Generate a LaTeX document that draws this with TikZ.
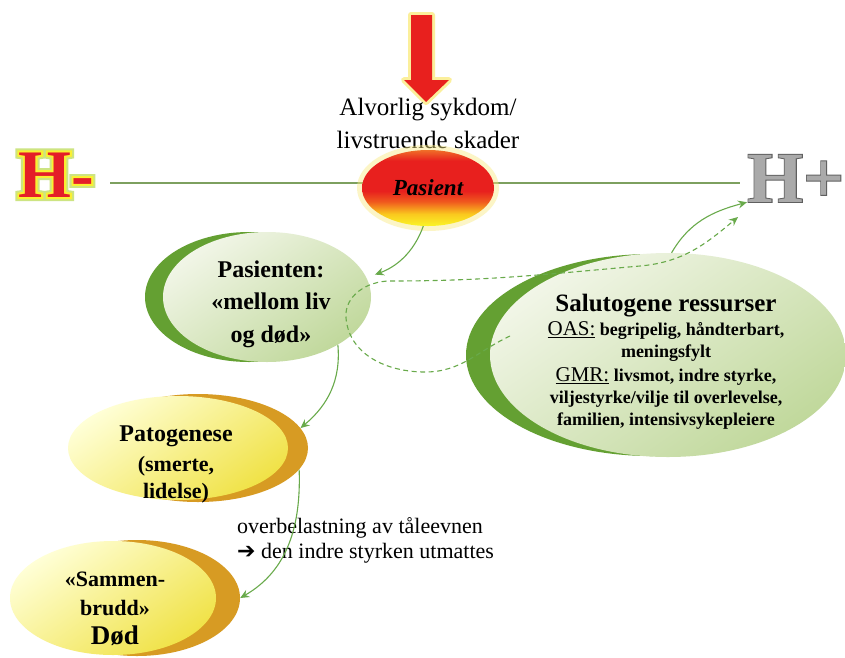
\documentclass[tikz,border=0pt]{standalone}
\usepackage{fontspec}
\setmainfont{Liberation Serif}
\newfontfamily\symfont{DejaVu Sans}
\font\hglowoutfont="Liberation Serif/B:embolden=12" at 68pt
\font\hglowinfont="Liberation Serif/B:embolden=6" at 68pt
\font\hplusoutfont="Liberation Serif/B:embolden=2.5" at 72pt
\usetikzlibrary{shapes.geometric,arrows.meta}

\definecolor{arrred}{RGB}{232,32,30}
\definecolor{arrglow}{RGB}{250,235,130}
\definecolor{pastop}{RGB}{240,110,40}
\definecolor{pasmid}{RGB}{240,90,30}
\definecolor{pasyo}{RGB}{250,200,30}
\definecolor{pasbot}{RGB}{250,245,40}
\definecolor{lineg}{RGB}{125,160,95}
\definecolor{conng}{RGB}{105,170,75}
\definecolor{darkg}{RGB}{100,160,50}
\definecolor{lightga}{RGB}{242,246,232}
\definecolor{lightgb}{RGB}{192,216,155}
\definecolor{orng}{RGB}{215,155,35}
\definecolor{ylwa}{RGB}{255,255,215}
\definecolor{ylwb}{RGB}{240,226,70}
\definecolor{hred}{RGB}{228,30,40}
\definecolor{hglow}{RGB}{250,240,50}
\definecolor{hglowout}{RGB}{205,228,130}
\definecolor{hgray}{RGB}{170,170,170}
\definecolor{hgraydark}{RGB}{95,95,95}

\pgfdeclareverticalshading{passhade}{100bp}{color(0bp)=(pasbot); color(25bp)=(pasbot);
  color(33bp)=(pasyo); color(41bp)=(pasmid); color(48bp)=(arrred); color(68bp)=(arrred);
  color(75bp)=(pastop); color(100bp)=(pastop)}

\begin{document}
\begin{tikzpicture}[x=1pt,y=1pt,
  hline/.style={draw=lineg, line width=1.3pt},
  conn/.style={draw=conng, line width=1.1pt, -{Stealth[length=9pt,width=8pt,inset=3pt]}},
  dconn/.style={conn, dash pattern=on 5pt off 3.5pt},
  greenface/.style={ellipse, inner sep=0pt, top color=lightga, bottom color=lightgb, shading angle=35},
  yellowface/.style={ellipse, inner sep=0pt, top color=ylwa, bottom color=ylwb, shading angle=35},
  backell/.style={ellipse, inner sep=0pt},
  bodytxt/.style={align=center, inner sep=0pt, text=black},
  hbig/.style={anchor=base west, inner sep=0pt, font=\fontsize{68}{68}\selectfont\bfseries},
  hbigp/.style={anchor=base west, inner sep=0pt, font=\fontsize{72}{72}\selectfont\bfseries}
]
\useasboundingbox (0,0) rectangle (845,-657);
\fill[white] (0,0) rectangle (845,-657);

% red arrow down
\draw[draw=arrglow, line width=6pt, line join=round, opacity=0.8]
  (411,-15) -- (432,-15) -- (432,-80) -- (449,-80) -- (426,-102) -- (404,-80) -- (411,-80) -- cycle;
\fill[arrred]
  (411,-15) -- (432,-15) -- (432,-80) -- (449,-80) -- (426,-102) -- (404,-80) -- (411,-80) -- cycle;

% caption above patient
\node[name=dis, align=center, inner sep=0pt, font=\fontsize{25}{33}\selectfont] at (428,-123)
  {Alvorlig sykdom/\\livstruende skader};

% horizontal axis
\coordinate (hl) at (110,-183);
\coordinate (hr) at (740,-183);
\draw[hline] (hl) -- (hr);

% H- with glow
\node[anchor=base west, inner sep=0pt, text=hglowout, font=\hglowoutfont, name=hmglowout] at (18,-197) {H-};
\node[anchor=base west, inner sep=0pt, text=hglow, font=\hglowinfont, name=hmglowin] at (18,-197) {H-};
\node[hbig, text=hred, name=hminus] at (18,-197) {H-};

% H+ engraved grey
\node[anchor=base west, inner sep=0pt, text=hgraydark, font=\hplusoutfont, name=hplusout] at (747,-202) {H+};
\node[hbigp, text=hgray, name=hplus] at (747,-202) {H+};

% Pasient
\node[name=pasglow, ellipse, minimum width=142pt, minimum height=86pt, fill=arrglow, opacity=0.45] at (428,-188) {};
\node[name=pas, ellipse, inner sep=0pt, minimum width=132pt, minimum height=76pt,
  shading=passhade, font=\fontsize{23}{25}\selectfont\bfseries\itshape] at (428,-188) {Pasient};

% Pasienten: mellom liv og død
\node[name=ptenback, backell, minimum width=208pt, minimum height=130pt, fill=darkg] at (249,-297) {};
\node[name=pten, greenface, minimum width=208pt, minimum height=130pt] at (267,-297) {};
\node[name=ptentxt, bodytxt, font=\fontsize{24}{32.5}\selectfont\bfseries] at (271,-304)
  {Pasienten:\\«mellom liv\\og død»};

% Salutogene ressurser
\node[name=saluback, backell, minimum width=370pt, minimum height=202pt, fill=darkg] at (651,-355) {};
\node[name=salu, greenface, minimum width=356pt, minimum height=204pt] at (668,-355) {};
\node[name=salutxt, bodytxt, font=\fontsize{18}{22}\selectfont\bfseries] at (666,-362)
  {{\fontsize{25}{28}\selectfont Salutogene ressurser}\\[2pt]
   {\mdseries\fontsize{21}{22}\selectfont\underline{OAS:}} begripelig, håndterbart,\\
   meningsfylt\\[2pt]
   {\mdseries\fontsize{21}{22}\selectfont\underline{GMR:}} livsmot, indre styrke,\\
   viljestyrke/vilje til overlevelse,\\
   familien, intensivsykepleiere};

% Patogenese
\node[name=patoback, backell, minimum width=220pt, minimum height=108pt, fill=orng] at (198,-448) {};
\node[name=pato, yellowface, minimum width=220pt, minimum height=104pt] at (178,-448) {};
\node[name=patotxt, bodytxt, font=\fontsize{22}{27}\selectfont\bfseries] at (176,-464)
  {{\fontsize{24}{27}\selectfont Patogenese}\\[3pt](smerte,\\lidelse)};

% Sammenbrudd / Død
\node[name=sammback, backell, minimum width=206pt, minimum height=116pt, fill=orng] at (137,-598) {};
\node[name=samm, yellowface, minimum width=206pt, minimum height=114pt] at (113,-598) {};
\node[name=sammtxt, bodytxt, font=\fontsize{22}{29}\selectfont\bfseries] at (115,-609)
  {«Sammen-\\brudd»\\{\fontsize{27}{29}\selectfont Død}};

% side text
\node[name=ovtxt, anchor=west, align=left, inner sep=0pt, font=\fontsize{22}{25}\selectfont] at (237,-540)
  {overbelastning av tåleevnen\\{\symfont ➔} den indre styrken utmattes};

% connectors
\draw[conn, shorten >=9pt] (pas.-97) to[out=-110,in=20] (pten.11);
\draw[conn] (pten.-34) to[out=-85,in=40] (patoback.11);
\draw[conn] (patoback.-12) to[out=-88,in=30] (sammback.0);
\draw[conn] (salu.88) to[out=60,in=195] (hplus.south west);

\coordinate (ds) at (510,-336);
\coordinate (de) at (738,-217);
\draw[dconn] (ds) to[out=205,in=0] (425,-372) to[out=180,in=-85] (346,-318)
  to[out=95,in=180] (390,-281) to[out=0,in=185] (640,-266) to[out=5,in=220] (de);
\end{tikzpicture}
\end{document}
